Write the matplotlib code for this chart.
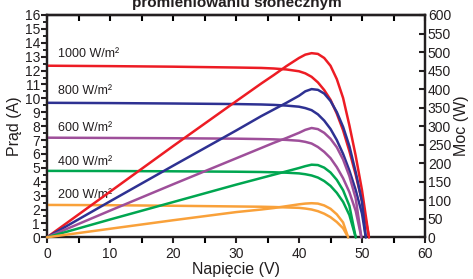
import matplotlib
matplotlib.use("Agg")
import matplotlib.pyplot as plt
from matplotlib.ticker import MultipleLocator

plt.rcParams['font.family'] = ['Liberation Sans', 'DejaVu Sans']

labels = ["1000 W/m²", "800 W/m²", "600 W/m²", "400 W/m²", "200 W/m²"]
colors = ["#ED1C24", "#2E3192", "#9E4F9A", "#00A650", "#F9A13A"]
label_y = [13.2, 10.5, 7.9, 5.4, 3.05]

v_1000 = [0, 10, 20, 30, 34, 36, 38, 40, 41, 42, 43, 44, 45, 46, 47, 48, 49, 50, 51, 51.1]
i_1000 = [12.35, 12.32, 12.28, 12.22, 12.19, 12.15, 12.08, 11.95, 11.8, 11.55, 11.15, 10.6, 9.9, 8.9, 7.7, 6.2, 4.5, 2.6, 0.3, 0]
p_1000 = [0, 123, 246, 367, 415, 438, 462, 484, 493, 497, 495, 484, 463, 427, 376, 302, 220, 127, 12, 0]

v_800 = [0, 10, 20, 30, 34, 36, 38, 40, 41, 42, 43, 44, 45, 46, 47, 48, 49, 50, 50.6]
i_800 = [9.68, 9.66, 9.63, 9.59, 9.56, 9.53, 9.48, 9.4, 9.3, 9.15, 8.85, 8.4, 7.8, 7.0, 6.0, 4.8, 3.4, 1.7, 0]
p_800 = [0, 97, 193, 288, 327, 345, 363, 382, 394, 400, 398, 388, 368, 338, 298, 246, 176, 96, 0]

v_600 = [0, 10, 20, 30, 34, 36, 38, 40, 41, 42, 43, 44, 45, 46, 47, 48, 49, 49.9]
i_600 = [7.17, 7.15, 7.13, 7.1, 7.07, 7.05, 7.01, 6.95, 6.87, 6.75, 6.5, 6.15, 5.7, 5.05, 4.25, 3.25, 1.9, 0]
p_600 = [0, 72, 143, 213, 241, 255, 268, 282, 290, 295, 292, 282, 266, 243, 210, 165, 105, 0]

v_400 = [0, 10, 20, 30, 34, 36, 38, 40, 41, 42, 43, 44, 45, 46, 47, 48, 49]
i_400 = [4.78, 4.77, 4.75, 4.72, 4.7, 4.68, 4.65, 4.6, 4.54, 4.45, 4.3, 4.05, 3.7, 3.2, 2.55, 1.6, 0]
p_400 = [0, 48, 95, 142, 160, 169, 178, 187, 192, 196, 195, 188, 175, 155, 127, 85, 0]

v_200 = [0, 10, 20, 30, 34, 36, 38, 40, 41, 42, 43, 44, 45, 46, 47, 47.8]
i_200 = [2.33, 2.31, 2.27, 2.22, 2.2, 2.18, 2.15, 2.12, 2.07, 2.0, 1.88, 1.7, 1.45, 1.1, 0.65, 0]
p_200 = [0, 23, 46, 68, 75, 79, 84, 89, 91, 92, 91, 86, 77, 62, 40, 0]

voltages = [v_1000, v_800, v_600, v_400, v_200]
currents = [i_1000, i_800, i_600, i_400, i_200]
powers = [p_1000, p_800, p_600, p_400, p_200]

txt = "#231F20"
fig = plt.figure(figsize=(4.73, 2.79), dpi=100)
ax = fig.add_axes([47/473, 1-237.3/279, (425-47)/473, (237.3-15)/279])
ax2 = ax.twinx()

for v, i, p, c in zip(voltages, currents, powers, colors):
    ax.plot(v, i, color=c, lw=1.8, solid_joinstyle='round', solid_capstyle='round', clip_on=False, zorder=3)
    ax2.plot(v, p, color=c, lw=1.8, solid_joinstyle='round', solid_capstyle='round', clip_on=False, zorder=3)

for lab, y in zip(labels, label_y):
    ax.text(1.7, y, lab, fontsize=9, color=txt, va='center', ha='left', zorder=5)

ax.set_xlim(0, 60)
ax.set_ylim(0, 16)
ax2.set_ylim(0, 600)

ax.xaxis.set_major_locator(MultipleLocator(10))
ax.xaxis.set_minor_locator(MultipleLocator(5))
ax.yaxis.set_major_locator(MultipleLocator(1))
ax.yaxis.set_minor_locator(MultipleLocator(0.5))
ax2.yaxis.set_major_locator(MultipleLocator(50))

for a in (ax, ax2):
    for s in a.spines.values():
        s.set_linewidth(1.6)
        s.set_color("#231F20")

ax.tick_params(axis='x', which='major', direction='out', length=4, width=1.5, labelsize=10, colors=txt, pad=3)
ax.tick_params(axis='x', which='minor', direction='out', length=4, width=1.5)
ax.tick_params(axis='y', which='major', direction='out', length=4, width=1.5, labelsize=10, colors=txt, pad=1)
ax.tick_params(axis='y', which='minor', direction='out', length=3, width=1.2)
ax2.tick_params(axis='y', which='major', direction='in', length=4, width=1.5, labelsize=10, colors=txt, pad=2)

top = ax.secondary_xaxis('top')
top.xaxis.set_major_locator(MultipleLocator(5))
top.tick_params(axis='x', direction='in', length=4, width=1.5, labeltop=False)
top.spines['top'].set_linewidth(1.6)

ax.set_xlabel("Napięcie (V)", fontsize=11.5, color=txt, labelpad=1)
ax.set_ylabel("Prąd (A)", fontsize=11.5, color=txt, labelpad=2)
ax2.set_ylabel("Moc (W)", fontsize=11.5, color=txt, labelpad=2)

fig.text(0.5, 1 - 7/279, "Charakterystyka prądowo-napięciowa przy różnym\npromieniowaniu słonecznym",
         ha='center', va='baseline', fontsize=11, fontweight='bold', color=txt, linespacing=1.1)

fig.savefig("out.png", dpi=100)
